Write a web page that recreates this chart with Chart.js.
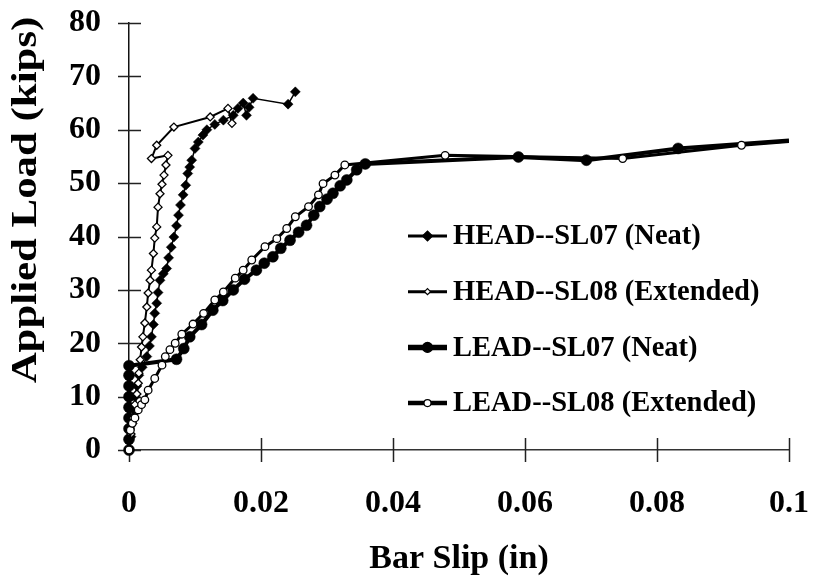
<!DOCTYPE html>
<html lang="en">
<head>
  <meta charset="UTF-8">
  <title>Bar Slip vs Applied Load</title>
  <script src="https://cdn.jsdelivr.net/npm/chart.js"></script>
  <style>
    body { margin: 0; background: #fff; }
  </style>
</head>
<body>
  <canvas id="graficoSlip" width="813" height="581"></canvas>

  <script>
    // valores: escorregamento (in) e carga (kips)
    const headSL07Slip = [0, 0.0003, 0.0005, 0.0007, 0.0009, 0.0012, 0.0015, 0.002, 0.0027, 0.0031, 0.0034, 0.0037, 0.0039, 0.0042, 0.0044, 0.0047, 0.0052, 0.0057, 0.006, 0.0064, 0.0068, 0.0072, 0.0075, 0.0078, 0.0082, 0.0086, 0.0089, 0.0092, 0.0095, 0.01, 0.0105, 0.0112, 0.0118, 0.013, 0.0143, 0.0158, 0.0165, 0.0173, 0.0178, 0.0182, 0.0188, 0.0241, 0.0252];
    const headSL07Load = [0, 2.5, 5, 7.5, 10, 12, 14, 15.5, 17.5, 19.5, 21.2, 23.5, 25.6, 27.5, 29.5, 31.8, 33, 34, 36, 38, 39.9, 42, 44, 45.9, 47.8, 49.6, 51.8, 53, 54.3, 56.5, 57.7, 59, 60, 61, 61.8, 62.7, 64, 65, 62.7, 64.2, 65.9, 64.8, 67.1];

    const headSL08Slip = [0, 0.0003, 0.0006, 0.0009, 0.0012, 0.0014, 0.0015, 0.0017, 0.0019, 0.0021, 0.0024, 0.0027, 0.0029, 0.0032, 0.0034, 0.0037, 0.0039, 0.0042, 0.0044, 0.0047, 0.005, 0.0053, 0.0056, 0.0059, 0.0034, 0.0042, 0.0068, 0.0123, 0.015, 0.0156];
    const headSL08Load = [0, 3, 6, 8.5, 10.5, 12.5, 14.4, 16.9, 19.3, 21.2, 23.8, 26.8, 29.4, 31.8, 33.7, 36.8, 39.7, 41.8, 45.5, 48, 49.8, 51.5, 53.4, 55.2, 54.6, 57.1, 60.5, 62.4, 64, 61.2];

    const leadSL07Slip = [0, 0, 0, 0, 0, 0, 0, 0, 0, 0.0072, 0.0083, 0.0092, 0.011, 0.0127, 0.0142, 0.0158, 0.0175, 0.0193, 0.0205, 0.0218, 0.023, 0.0244, 0.0257, 0.0269, 0.028, 0.0289, 0.03, 0.0309, 0.032, 0.033, 0.0345, 0.0358, 0.059, 0.0693, 0.0832, 0.1];
    const leadSL07Load = [0, 2, 4, 6, 8, 10, 12, 14, 15.8, 17, 19, 21.2, 23.5, 26.2, 28, 30, 32, 33.7, 35, 36.2, 37.8, 39.3, 40.8, 42.1, 44, 45.6, 47, 48.1, 49.5, 50.6, 52.5, 53.6, 54.9, 54.3, 56.5, 58];

    const leadSL08Slip = [0, 0.0002, 0.0005, 0.0009, 0.0014, 0.0019, 0.0024, 0.0029, 0.0039, 0.005, 0.0055, 0.0062, 0.007, 0.008, 0.0097, 0.0113, 0.013, 0.0143, 0.0161, 0.0173, 0.0186, 0.0206, 0.0224, 0.0239, 0.0252, 0.0272, 0.0287, 0.0294, 0.0312, 0.0327, 0.0479, 0.0748, 0.0928, 0.1];
    const leadSL08Load = [0, 3.7, 5, 6, 7.5, 8.5, 9.4, 11.2, 13.4, 15.9, 17.5, 18.8, 20, 21.7, 23.6, 25.6, 28.1, 29.6, 32.2, 33.7, 35.6, 38.1, 39.6, 41.5, 43.7, 45.6, 47.8, 49.9, 51.5, 53.4, 55.2, 54.6, 57.1, 57.8];

    const seriesLabels = ['HEAD--SL07 (Neat)', 'HEAD--SL08 (Extended)', 'LEAD--SL07 (Neat)', 'LEAD--SL08 (Extended)'];
    const xTicks = [0, 0.02, 0.04, 0.06, 0.08, 0.1];
    const yTicks = [0, 10, 20, 30, 40, 50, 60, 70, 80];
    const xTitle = 'Bar Slip (in)';
    const yTitle = 'Applied Load (kips)';

    const pares = (xs, ys) => xs.map((x, i) => ({ x: x, y: ys[i] }));
    const serif = 'Liberation Serif, Times New Roman, serif';

    // sem marcador no ponto que encosta na borda direita
    const raio = r => ctx => (ctx.raw && ctx.raw.x >= 0.1 ? 0 : r);

    const datasets = [
      {
        label: seriesLabels[0], data: pares(headSL07Slip, headSL07Load),
        borderColor: '#000', borderWidth: 1.5, pointStyle: 'rectRot',
        pointRadius: 5, pointBackgroundColor: '#000', pointBorderColor: '#000', pointBorderWidth: 0.5,
        order: 2, legendRadius: 5
      },
      {
        label: seriesLabels[1], data: pares(headSL08Slip, headSL08Load),
        borderColor: '#000', borderWidth: 2, pointStyle: 'rectRot',
        pointRadius: 4, pointBackgroundColor: '#fff', pointBorderColor: '#000', pointBorderWidth: 1.3,
        order: 1, legendRadius: 3
      },
      {
        label: seriesLabels[2], data: pares(leadSL07Slip, leadSL07Load),
        borderColor: '#000', borderWidth: 4, pointStyle: 'circle',
        pointRadius: raio(5.5), pointBackgroundColor: '#000', pointBorderColor: '#000', pointBorderWidth: 0.5,
        order: 3, legendRadius: 5
      },
      {
        label: seriesLabels[3], data: pares(leadSL08Slip, leadSL08Load),
        borderColor: '#000', borderWidth: 3, pointStyle: 'circle',
        pointRadius: raio(3.8), pointBackgroundColor: '#fff', pointBorderColor: '#000', pointBorderWidth: 1.3,
        order: 0, legendRadius: 3.5
      }
    ];

    // marcas dos eixos cruzando a linha do eixo
    const marcasCruzadas = {
      id: 'marcasCruzadas',
      beforeDatasetsDraw(chart) {
        const { ctx, scales: { x, y } } = chart;
        ctx.save();
        ctx.strokeStyle = '#222';
        ctx.lineWidth = 1.5;
        ctx.beginPath();
        x.ticks.forEach(t => {
          const px = Math.round(x.getPixelForValue(t.value)) + 0.5;
          ctx.moveTo(px, y.bottom - 12);
          ctx.lineTo(px, y.bottom + 12);
        });
        y.ticks.forEach(t => {
          const py = Math.round(y.getPixelForValue(t.value)) + 0.5;
          ctx.moveTo(x.left - 11, py);
          ctx.lineTo(x.left + 12, py);
        });
        ctx.stroke();
        ctx.restore();
      }
    };

    // título do eixo y, um pouco esticado como no original
    const tituloY = {
      id: 'tituloY',
      afterDraw(chart) {
        const ctx = chart.ctx;
        ctx.save();
        ctx.translate(27, 200);
        ctx.rotate(-Math.PI / 2);
        ctx.scale(1.19, 1);
        ctx.fillStyle = '#000';
        ctx.font = 'bold 36px ' + serif;
        ctx.textAlign = 'center';
        ctx.textBaseline = 'middle';
        ctx.fillText(yTitle, 0, 0);
        ctx.restore();
      }
    };

    // legenda desenhada dentro da área do gráfico
    const legendaInterna = {
      id: 'legendaInterna',
      afterDraw(chart) {
        const ctx = chart.ctx;
        const x0 = 408, x1 = 447, xt = 453, yBase = 236, passo = 55.7;
        ctx.save();
        chart.data.datasets.forEach((ds, i) => {
          const yy = yBase + i * passo;
          const xm = (x0 + x1) / 2;
          ctx.strokeStyle = ds.borderColor;
          ctx.lineWidth = ds.borderWidth + (i === 1 ? 1 : 1.5);
          ctx.beginPath();
          ctx.moveTo(x0, yy);
          ctx.lineTo(x1, yy);
          ctx.stroke();

          const r = ds.legendRadius;
          ctx.fillStyle = ds.pointBackgroundColor;
          ctx.strokeStyle = ds.pointBorderColor;
          ctx.lineWidth = 1.2;
          ctx.beginPath();
          if (ds.pointStyle === 'rectRot') {
            ctx.moveTo(xm - r, yy);
            ctx.lineTo(xm, yy - r);
            ctx.lineTo(xm + r, yy);
            ctx.lineTo(xm, yy + r);
            ctx.closePath();
          } else {
            ctx.arc(xm, yy, r, 0, Math.PI * 2);
          }
          ctx.fill();
          ctx.stroke();

          ctx.fillStyle = '#000';
          ctx.font = 'bold 28.5px ' + serif;
          ctx.textAlign = 'left';
          ctx.textBaseline = 'middle';
          ctx.fillText(ds.label, xt, yy + 1);
        });
        ctx.restore();
      }
    };

    const config = {
      type: 'scatter',
      data: { datasets: datasets },
      plugins: [marcasCruzadas, legendaInterna, tituloY],
      options: {
        responsive: false,
        animation: false,
        showLine: true,
        layout: { padding: { top: 23, right: 24, left: 0, bottom: 0 } },
        elements: { line: { tension: 0 } },
        datasets: { scatter: { clip: { left: 8, top: 8, right: 0, bottom: 8 } } },
        plugins: {
          legend: { display: false },
          tooltip: { enabled: false }
        },
        scales: {
          x: {
            type: 'linear', min: 0, max: 0.1,
            afterFit: s => { s.height = 131; s.paddingLeft = 0; s.paddingRight = 0; },
            afterBuildTicks: s => { s.ticks = xTicks.map(v => ({ value: v })); },
            grid: { display: false },
            border: { display: true, color: '#333', width: 1.5 },
            ticks: {
              padding: 27, color: '#000',
              font: { family: serif, size: 32, weight: 'bold' },
              callback: v => String(+v.toFixed(2)),
              maxRotation: 0
            },
            title: {
              display: true, text: xTitle, color: '#000',
              font: { family: serif, size: 34, weight: 'bold' },
              padding: { top: 0, bottom: 1 }
            }
          },
          y: {
            type: 'linear', min: 0, max: 80,
            afterFit: s => { s.width = 129; s.paddingTop = 0; s.paddingBottom = 0; },
            afterBuildTicks: s => { s.ticks = yTicks.map(v => ({ value: v })); },
            grid: { display: false },
            border: { display: true, color: '#111', width: 1.5 },
            ticks: {
              padding: 20, color: '#000',
              font: { family: serif, size: 32, weight: 'bold' }
            },
            title: { display: false }
          }
        }
      }
    };

    const ctx = document.getElementById('graficoSlip').getContext('2d');
    const graficoSlip = new Chart(ctx, config);
  </script>
</body>
</html>
